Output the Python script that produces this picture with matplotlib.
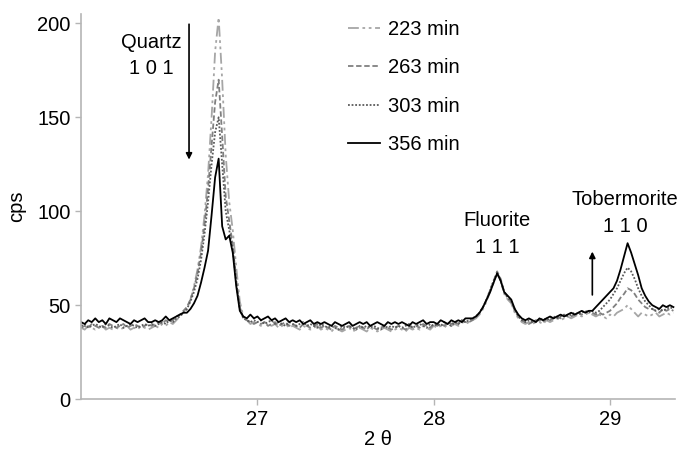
import numpy as np
import matplotlib
matplotlib.use("Agg")
import matplotlib.pyplot as plt

plt.rcParams["font.family"] = ["Liberation Sans", "DejaVu Sans"]

# Scan angle, 26.00 to 29.36 deg in 0.02 steps
two_theta = np.round(np.linspace(26.00, 29.36, 169), 2)

cps_223 = [
    38, 37, 39, 38, 37, 38, 39, 37, 38, 37,
    38, 37, 38, 39, 37, 38, 37, 39, 38, 37,
    38, 39, 38, 40, 39, 41, 40, 42, 44, 46,
    48, 53, 60, 69, 81, 98, 120, 150, 185, 203,
    170, 130, 105, 90, 70, 52, 44, 42, 40, 41,
    40, 39, 41, 40, 39, 40, 38, 39, 40, 38,
    39, 38, 37, 39, 38, 37, 38, 39, 37, 38,
    37, 36, 38, 37, 36, 37, 38, 36, 37, 38,
    37, 36, 38, 37, 36, 37, 38, 37, 36, 37,
    38, 37, 36, 38, 37, 38, 37, 39, 38, 37,
    39, 38, 39, 38, 40, 39, 40, 39, 41, 40,
    41, 42, 43, 45, 48, 52, 57, 62, 67, 63,
    56, 53, 51, 46, 43, 41, 40, 41, 40, 41,
    41, 40, 42, 41, 42, 43, 42, 43, 44, 43,
    44, 45, 44, 45, 46, 45, 44, 45, 44, 43,
    45, 44, 46, 47, 48, 50, 48, 46, 44, 46,
    45, 44, 45, 46, 44, 45, 46, 45, 46,
]

cps_263 = [
    38, 39, 38, 40, 39, 38, 39, 38, 40, 39,
    38, 39, 40, 38, 39, 40, 39, 38, 39, 40,
    39, 40, 41, 40, 42, 41, 42, 44, 45, 47,
    49, 53, 59, 67, 78, 93, 112, 135, 158, 170,
    140, 108, 95, 82, 63, 49, 43, 42, 41, 40,
    41, 40, 41, 39, 40, 41, 39, 40, 41, 39,
    40, 39, 38, 40, 39, 38, 39, 40, 38, 39,
    38, 37, 39, 38, 37, 38, 39, 37, 38, 39,
    38, 37, 39, 38, 37, 38, 39, 38, 37, 38,
    39, 38, 37, 39, 38, 39, 38, 40, 39, 38,
    40, 39, 40, 39, 41, 40, 41, 40, 42, 41,
    41, 42, 44, 46, 49, 53, 58, 63, 68, 64,
    57, 54, 52, 47, 44, 42, 41, 40, 41, 42,
    42, 41, 43, 42, 43, 44, 43, 44, 45, 44,
    45, 46, 45, 46, 47, 46, 45, 46, 45, 46,
    47, 49, 51, 54, 56, 59, 58, 56, 53, 51,
    49, 48, 48, 47, 46, 48, 47, 48, 47,
]

cps_303 = [
    39, 40, 38, 39, 40, 39, 38, 40, 39, 38,
    39, 40, 38, 39, 40, 39, 38, 39, 40, 39,
    40, 39, 40, 41, 40, 42, 41, 43, 44, 46,
    48, 52, 57, 64, 74, 88, 105, 125, 142, 150,
    125, 100, 90, 80, 62, 48, 43, 42, 41, 42,
    41, 42, 40, 41, 42, 40, 41, 40, 39, 41,
    40, 39, 40, 41, 39, 40, 39, 38, 40, 39,
    38, 39, 38, 37, 39, 38, 39, 38, 37, 39,
    38, 39, 38, 39, 38, 37, 39, 38, 39, 38,
    39, 38, 39, 40, 38, 39, 40, 39, 38, 40,
    39, 40, 39, 41, 40, 39, 41, 40, 42, 41,
    42, 43, 44, 46, 49, 53, 58, 63, 67, 63,
    57, 54, 52, 48, 44, 42, 41, 42, 41, 42,
    42, 43, 42, 43, 44, 43, 44, 45, 44, 45,
    46, 45, 46, 47, 46, 47, 46, 47, 49, 51,
    53, 56, 59, 63, 67, 70, 68, 64, 59, 55,
    52, 50, 48, 47, 48, 47, 48, 49, 48,
]

cps_356 = [
    41, 40, 42, 41, 43, 41, 42, 40, 43, 42,
    41, 43, 42, 41, 40, 42, 41, 42, 43, 41,
    41, 42, 41, 42, 44, 42, 43, 44, 45, 46,
    46, 48, 51, 55, 62, 70, 79, 98, 118, 128,
    92, 85, 87, 78, 60, 47, 44, 43, 45, 43,
    44, 42, 43, 44, 42, 43, 41, 42, 43, 41,
    42, 41, 42, 40, 41, 42, 40, 41, 40, 41,
    40, 39, 41, 40, 39, 40, 41, 39, 40, 41,
    40, 41, 39, 40, 41, 40, 39, 41, 40, 41,
    40, 41, 40, 39, 41, 40, 41, 42, 40, 41,
    41, 40, 42, 41, 40, 42, 41, 42, 41, 43,
    43, 43, 44, 46, 49, 53, 57, 62, 67, 63,
    57, 55, 53, 48, 45, 43, 42, 43, 42, 41,
    43, 42, 43, 44, 43, 44, 45, 44, 45, 46,
    45, 46, 47, 46, 47, 47, 49, 51, 53, 55,
    57, 59, 63, 69, 76, 83, 78, 72, 66, 59,
    55, 52, 50, 49, 48, 50, 49, 50, 49,
]

series = [
    ("223 min", cps_223, "#a6a6a6", (0, (6, 2, 1.5, 2, 1.5, 2))),
    ("263 min", cps_263, "#808080", (0, (3, 1.5))),
    ("303 min", cps_303, "#5a5a5a", (0, (1, 1))),
    ("356 min", cps_356, "black", "-"),
]

fs = 14.5

fig = plt.figure(figsize=(6.82, 4.49), dpi=100)
ax = fig.add_axes([0.119, 0.111, 0.871, 0.858])

for label, values, color, style in series:
    ax.plot(two_theta, values, color=color, linestyle=style, linewidth=1.3, label=label)

ax.set_xlim(26.0, 29.37)
ax.set_ylim(0, 205)
ax.set_xticks([27, 28, 29])
ax.set_yticks([0, 50, 100, 150, 200])
ax.set_xlabel("2 θ", fontsize=fs, labelpad=1)
ax.set_ylabel("cps", fontsize=fs, labelpad=8)

for side in ["top", "right"]:
    ax.spines[side].set_visible(False)
for side in ["left", "bottom"]:
    ax.spines[side].set_color("#b5b5b5")
    ax.spines[side].set_linewidth(1.2)
ax.tick_params(colors="#b5b5b5", labelcolor="black", labelsize=fs, length=4, width=1)

# Peak labels
ax.text(26.40, 183, "Quartz\n1 0 1", ha="center", va="center", fontsize=fs, linespacing=1.5)
ax.text(28.36, 88, "Fluorite\n1 1 1", ha="center", va="center", fontsize=fs, linespacing=1.5)
ax.text(29.085, 99, "Tobermorite\n1 1 0", ha="center", va="center", fontsize=fs, linespacing=1.5)
ax.annotate("", xy=(26.612, 126), xytext=(26.612, 201),
            arrowprops=dict(arrowstyle="-|>", color="black", lw=1.2, mutation_scale=9))
ax.annotate("", xy=(28.90, 80), xytext=(28.90, 54),
            arrowprops=dict(arrowstyle="-|>", color="black", lw=1.2, mutation_scale=9))

ax.legend(loc="upper left", bbox_to_anchor=(0.45, 0.985), frameon=False, fontsize=fs,
          handlelength=1.55, handletextpad=0.4, labelspacing=0.97, borderpad=0, borderaxespad=0)

fig.savefig("out.png", dpi=100)
